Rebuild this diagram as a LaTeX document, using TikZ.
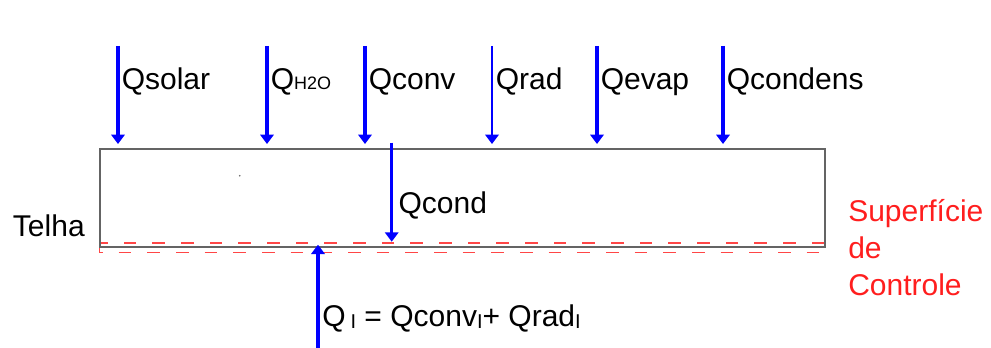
\documentclass[tikz,border=0pt]{standalone}
\usepackage{fontspec}
\setmainfont{Liberation Sans}
\usetikzlibrary{arrows.meta}
\usetikzlibrary{positioning}
\definecolor{fluxblue}{RGB}{0,0,255}
\definecolor{tilegray}{RGB}{100,100,100}
\definecolor{ctrlred}{RGB}{255,30,30}
\definecolor{dashred}{RGB}{255,70,70}
\newcommand{\bigtxt}{\fontsize{22.5}{27}\selectfont}
\newcommand{\smalltxt}[1]{{\fontsize{13.5}{15}\selectfont #1}}
\newcommand{\subI}{\raisebox{-1pt}{\fontsize{15}{16}\selectfont I}}
\tikzset{
  flux/.style={fluxblue, line width=#1, -{Triangle[width=10pt,length=7pt]}},
  flux/.default=2.25pt,
  fluxlabel/.style={anchor=base west, inner sep=0pt, font=\bigtxt},
  tile/.style={tilegray, line width=1.5pt},
  ctrl/.style={dashred, line width=1.1pt, dash pattern=on 9.5pt off 12pt},
  ctrltext/.style={anchor=base west, inner sep=0pt, font=\bigtxt, text=ctrlred}
}
\begin{document}
\begin{tikzpicture}[x=0.75pt, y=-0.75pt]
		\useasboundingbox (0,0) rectangle (991,348);
		
		% tile (telha) and control surface
		\coordinate (tile-nw) at (99.5,149.5);
		\coordinate (tile-se) at (824.5,247.5);
		\draw[ctrl] (99.5,242.8) rectangle (825,252.3);
		\draw[tile] (tile-nw) rectangle (tile-se);
		\fill[tilegray] (239.7,175.7) circle (0.9);
		
		% incoming fluxes on top of the tile
		\foreach \nm/\xx/\lw/\txt in {solar/118/3pt/Qsolar,
				h2o/267/2.7pt/{Q\smalltxt{H2O}},
				conv/365/2.4pt/Qconv,
				rad/492/1.9pt/Qrad,
				evap/597/2.4pt/Qevap,
				condens/723/3pt/Qcondens}{
			\coordinate (top-\nm) at (\xx,46);
			\coordinate (tip-\nm) at (\xx,144);
			\draw[flux=\lw] (top-\nm) -- (tip-\nm);
			\node[fluxlabel] (lab-\nm) at (\xx+3.5,90) {\txt};
		}
		
		% conduction through the tile
		\coordinate (cond-top) at (391.7,142.7);
		\coordinate (cond-tip) at (391.7,241.7);
		\draw[flux=1.9pt] (cond-top) -- (cond-tip);
		\node[fluxlabel] (lab-cond) at (398.3,213.3) {Qcond};
		
		% flux from below
		\coordinate (low-start) at (318,350);
		\coordinate (low-tip) at (318,244.7);
		\draw[flux=2.7pt] (low-start) -- (low-tip);
		\node[fluxlabel] (lab-low) at (322,327) {Q\,\subI\ = Qconv\subI+ Qrad\subI};
		
		% side texts
		\node[fluxlabel] (telha) at (12.7,236.7) {Telha};
		\node[ctrltext] (sup1) at (848,222) {Superfície};
		\node[ctrltext] (sup2) at (848,258.5) {de};
		\node[ctrltext] (sup3) at (848,295.5) {Controle};
	\end{tikzpicture}
\end{document}
